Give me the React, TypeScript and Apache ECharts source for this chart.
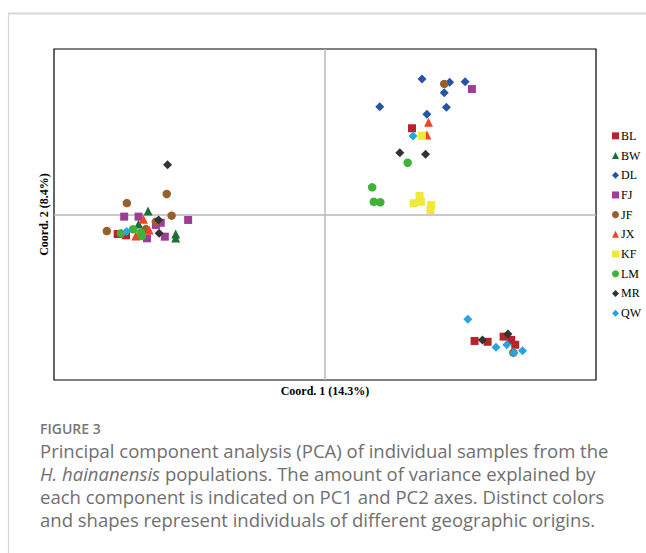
import React, { useEffect, useRef } from "react";
import * as echarts from "echarts";

// Population codes (legend order)
const CATEGORIES = ["BL", "BW", "DL", "FJ", "JF", "JX", "KF", "LM", "MR", "QW"];

// PCA scores: [Coord. 1, Coord. 2]
const BL: [number, number][] = [
  [-0.765, -0.118], [-0.734, -0.126], [0.321, 0.521], [0.552, -0.764],
  [0.6, -0.769], [0.659, -0.738], [0.687, -0.758], [0.702, -0.787],
];
const BW: [number, number][] = [
  [-0.653, 0.021], [-0.688, -0.057], [-0.551, -0.118], [-0.551, -0.142],
];
const DL: [number, number][] = [
  [0.358, 0.819], [0.46, 0.799], [0.517, 0.802], [0.44, 0.736],
  [0.202, 0.651], [0.448, 0.648], [0.376, 0.605],
];
const FJ: [number, number][] = [
  [-0.741, -0.013], [-0.688, -0.013], [-0.505, -0.033], [-0.624, -0.063],
  [-0.657, -0.144], [-0.591, -0.134], [-0.606, -0.05], [0.542, 0.758],
];
const JF: [number, number][] = [
  [-0.731, 0.069], [-0.584, 0.124], [-0.566, -0.007], [-0.805, -0.1],
  [-0.661, -0.088], [-0.624, -0.044], [0.44, 0.789], [0.695, -0.835],
];
const JX: [number, number][] = [
  [-0.67, -0.029], [-0.698, -0.13], [-0.649, -0.094], [0.382, 0.557], [0.376, 0.48],
];
const KF: [number, number][] = [
  [0.358, 0.476], [0.349, 0.112], [0.327, 0.068], [0.354, 0.077],
  [0.392, 0.057], [0.389, 0.027],
];
const LM: [number, number][] = [
  [-0.753, -0.114], [-0.708, -0.089], [-0.68, -0.11], [-0.676, -0.13],
  [0.305, 0.313], [0.174, 0.164], [0.18, 0.077], [0.204, 0.074],
];
const MR: [number, number][] = [
  [-0.581, 0.301], [-0.614, -0.033], [-0.612, -0.114], [0.276, 0.373],
  [0.371, 0.364], [0.581, -0.758], [0.675, -0.722],
];
const QW: [number, number][] = [
  [-0.732, -0.102], [0.325, 0.474], [0.527, -0.633], [0.631, -0.802],
  [0.671, -0.787], [0.697, -0.835], [0.729, -0.823],
];
const SERIES_DATA = [BL, BW, DL, FJ, JF, JX, KF, LM, MR, QW];

// Axis titles
const X_TITLE = "Coord. 1 (14.3%)";
const Y_TITLE = "Coord. 2 (8.4%)";

// Caption
const FIG_LABEL = "FIGURE 3";
const CAPTION_LINES = [
  "Principal component analysis (PCA) of individual samples from the",
  "{i|H. hainanensis} populations. The amount of variance explained by",
  "each component is indicated on PC1 and PC2 axes. Distinct colors",
  "and shapes represent individuals of different geographic origins.",
];

// Styles
const COLORS: Record<string, string> = {
  BL: "#b5252b", BW: "#1e6e35", DL: "#2554a8", FJ: "#9c3d96", JF: "#96612c",
  JX: "#ef4423", KF: "#f2e83c", LM: "#40b237", MR: "#333333", QW: "#25a5e2",
};
const SYMBOLS: Record<string, string> = {
  BL: "rect", BW: "triangle", DL: "diamond", FJ: "rect", JF: "circle",
  JX: "triangle", KF: "rect", LM: "circle", MR: "diamond", QW: "diamond",
};
const SIZES: Record<string, number> = {
  rect: 8, triangle: 9, diamond: 9, circle: 8.5,
};

export default function App() {
  const ref = useRef<HTMLDivElement>(null);
  useEffect(() => {
    if (!ref.current) return;
    const chart = echarts.init(ref.current, undefined, { renderer: "svg" });
    const serif = "'Liberation Serif', 'Times New Roman', serif";
    const sans = "'Open Sans', 'Noto Sans', sans-serif";
    const series: any[] = CATEGORIES.map((c, i) => ({
      name: c,
      type: "scatter",
      data: SERIES_DATA[i],
      symbol: SYMBOLS[c],
      symbolSize: SIZES[SYMBOLS[c]],
      itemStyle: { color: COLORS[c], opacity: 1 },
      emphasis: { disabled: true },
      z: 3,
    }));
    series[0].markLine = {
      silent: true,
      symbol: ["none", "none"],
      label: { show: false },
      lineStyle: { color: "#b8b8b8", width: 1.5, type: "solid" },
      data: [{ xAxis: 0 }, { yAxis: 0 }],
      z: 1,
    };
    const graphic: any[] = [
      { type: "line", shape: { x1: 8, y1: 13.5, x2: 646, y2: 13.5 }, style: { stroke: "#d6d6d6", lineWidth: 2 } },
      { type: "line", shape: { x1: 8.5, y1: 13, x2: 8.5, y2: 553 }, style: { stroke: "#d6d6d6", lineWidth: 1.2 } },
      {
        type: "text", x: 40, y: 428,
        style: { text: FIG_LABEL, fill: "#777777", font: `600 14px ${sans}`, textVerticalAlign: "middle" },
      },
      ...CAPTION_LINES.map((t, i) => ({
        type: "text", x: 40, y: 450 + i * 23,
        style: {
          text: t, fill: "#6f6f6f", fontFamily: sans, fontSize: 18.5,
          textVerticalAlign: "middle",
          rich: { i: { fontStyle: "italic", fontFamily: sans, fontSize: 18.5, fill: "#6f6f6f" } },
        },
      })),
    ];
    chart.setOption({
      animation: false,
      backgroundColor: "#ffffff",
      grid: {
        left: 54, right: 50, top: 49, bottom: 173,
        show: true, borderColor: "#000000", borderWidth: 1.2,
        containLabel: false, outerBoundsMode: "none",
      },
      xAxis: {
        type: "value", min: -1, max: 1,
        axisLine: { show: false, onZero: false },
        axisTick: { show: false }, axisLabel: { show: false }, splitLine: { show: false },
        name: X_TITLE, nameLocation: "middle", nameGap: 5,
        nameTextStyle: { fontFamily: serif, fontWeight: "bold", fontSize: 12, color: "#000" },
      },
      yAxis: {
        type: "value", min: -1, max: 1,
        axisLine: { show: false, onZero: false },
        axisTick: { show: false }, axisLabel: { show: false }, splitLine: { show: false },
        name: Y_TITLE, nameLocation: "middle", nameGap: 4, nameRotate: 90,
        nameTextStyle: { fontFamily: serif, fontWeight: "bold", fontSize: 12, color: "#000" },
      },
      legend: {
        orient: "vertical", left: 612, top: 129, padding: 0,
        itemWidth: 7, itemHeight: 7, itemGap: 6,
        selectedMode: false,
        textStyle: { fontFamily: serif, fontSize: 12, color: "#000", lineHeight: 13.7, padding: [0, 0, 0, -3] },
        data: CATEGORIES,
      },
      tooltip: { show: false },
      series,
      graphic,
    });
    return () => chart.dispose();
  }, []);
  return (
    <div
      ref={ref}
      style={{ position: "absolute", left: 0, top: 0, width: 646, height: 553 }}
    />
  );
}
